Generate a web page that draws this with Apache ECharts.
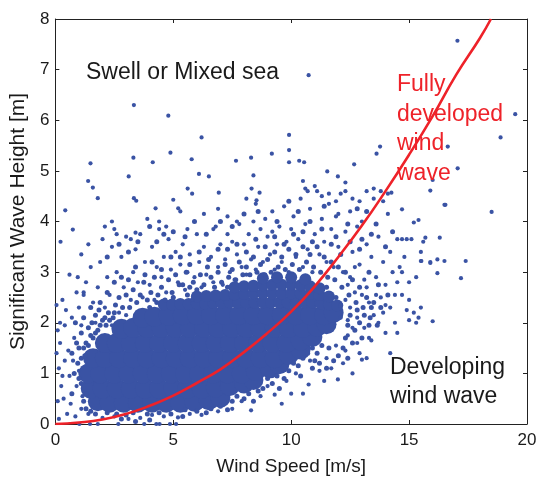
<!DOCTYPE html>
<html>
<head>
<meta charset="utf-8">
<script src="https://cdn.jsdelivr.net/npm/echarts@6/dist/echarts.min.js"></script>
<style>
html,body{margin:0;padding:0;background:#fff;}
#chart{width:540px;height:481px;}
</style>
</head>
<body>
<div id="chart"></div>
<script>
// Axis ticks
const windTicks = [0, 5, 10, 15, 20];
const heightTicks = [0, 1, 2, 3, 4, 5, 6, 7, 8];

// Dense core of the scatter cloud (read as solid area; [wind speed m/s, Hs m])
const denseCore = [
  [1.8,0.45],[2.3,0.42],[2.9,0.42],[3.5,0.42],[4.1,0.42],[4.7,0.42],[5.3,0.42],[5.9,0.44],[6.5,0.47],[7.0,0.52],
  [1.5,0.7],[2.0,0.7],[2.6,0.7],[3.2,0.7],[3.8,0.7],[4.4,0.7],[5.0,0.7],[5.6,0.7],[6.2,0.7],[6.8,0.72],[7.4,0.75],[8.0,0.8],[8.4,0.87],
  [1.4,1.0],[1.9,1.0],[2.5,1.0],[3.1,1.0],[3.7,1.0],[4.3,1.0],[4.9,1.0],[5.5,1.0],[6.1,1.0],[6.7,1.0],[7.3,1.0],[7.9,1.0],[8.5,1.05],[9.1,1.1],[9.5,1.18],
  [1.6,1.3],[2.1,1.3],[2.7,1.3],[3.3,1.3],[3.9,1.3],[4.5,1.3],[5.1,1.3],[5.7,1.3],[6.3,1.3],[6.9,1.3],[7.5,1.3],[8.1,1.3],[8.7,1.3],[9.3,1.3],[9.9,1.37],[10.4,1.47],
  [2.1,1.6],[2.6,1.6],[3.2,1.6],[3.8,1.6],[4.4,1.6],[5.0,1.6],[5.6,1.6],[6.2,1.6],[6.8,1.6],[7.4,1.6],[8.0,1.6],[8.6,1.6],[9.2,1.6],[9.8,1.6],[10.4,1.65],[10.9,1.72],
  [2.8,1.88],[3.3,1.9],[3.9,1.9],[4.5,1.9],[5.1,1.9],[5.7,1.9],[6.3,1.9],[6.9,1.9],[7.5,1.9],[8.1,1.9],[8.7,1.9],[9.3,1.9],[9.9,1.9],[10.5,1.9],[11.1,1.92],[11.5,1.97],
  [3.7,2.1],[4.2,2.12],[4.8,2.14],[5.4,2.15],[6.0,2.15],[6.6,2.15],[7.2,2.15],[7.8,2.15],[8.4,2.15],[9.0,2.15],[9.6,2.15],[10.2,2.15],[10.8,2.15],[11.4,2.15],[11.8,2.2]
];

// Upper edge of the solid area, finer grain ([wind speed m/s, Hs m])
const coreUpperEdge = [
  [4.6,2.36],[4.95,2.36],[5.3,2.37],[5.65,2.37],[6.0,2.38],[6.35,2.38],[6.7,2.39],[7.05,2.39],[7.4,2.4],[7.75,2.4],
  [8.1,2.4],[8.45,2.4],[8.8,2.4],[9.15,2.4],[9.5,2.4],[9.85,2.4],[10.2,2.4],[10.55,2.4],[10.9,2.4],[11.25,2.38],[11.6,2.36],[11.95,2.34],
  [6.0,2.52],[6.4,2.53],[6.8,2.54],[7.2,2.55],[7.6,2.56],[8.0,2.57],[8.4,2.58],[8.8,2.58],[9.2,2.58],[9.6,2.58],
  [10.0,2.58],[10.4,2.58],[10.8,2.57],[11.2,2.55],[11.6,2.52],
  [7.6,2.7],[8.0,2.72],[8.4,2.73],[8.8,2.74],[9.2,2.75],[9.6,2.75],[10.0,2.75],[10.4,2.74],[10.8,2.72],[11.2,2.68],
  [8.8,2.88],[9.4,2.9],[10.0,2.9],[10.6,2.86]
];

// Tightly packed points around the edge of the core ([wind speed m/s, Hs m])
const coreFringe = [
  // above the core
  [1.0,1.5],[1.1,1.8],[1.2,2.1],[1.3,1.6],[1.4,1.9],[1.5,2.3],[1.6,1.7],[1.7,2.15],[1.8,1.85],[1.9,2.4],
  [2.0,2.05],[1.25,1.35],[1.55,2.0],[1.85,2.25],[2.15,1.95],[2.25,2.2],[2.45,2.1],[2.55,2.35],[2.7,2.5],[2.85,2.3],
  [3.0,2.55],[3.15,2.3],[3.3,2.65],[3.45,2.4],[3.6,2.55],[3.75,2.8],[3.9,2.45],[4.05,2.6],[4.2,2.9],[4.35,2.55],
  [4.5,2.7],[4.65,2.45],[4.8,2.85],[4.95,2.6],[5.1,2.95],[5.25,2.75],[5.4,2.75],[5.55,3.0],[5.7,2.7],[5.85,2.8],
  [6.0,2.65],[6.15,2.95],[6.3,2.75],[6.45,3.1],[6.6,2.9],[6.75,2.7],[6.9,3.0],[7.05,2.8],[7.2,3.15],[7.35,2.9],
  [7.5,3.05],[7.65,2.85],[7.8,3.2],[7.95,2.95],[8.1,3.1],[8.25,2.95],[8.4,3.3],[8.55,3.0],[8.7,3.15],[8.85,2.95],
  [9.0,3.25],[9.15,3.0],[9.3,3.4],[9.45,3.1],[9.6,3.3],[9.75,3.05],[9.9,3.45],[10.05,3.15],[10.2,3.35],[10.35,3.05],
  [10.5,3.5],[10.65,3.2],[10.8,3.35],[10.95,3.1],[11.1,3.5],[11.25,3.0],[11.4,3.3],[11.55,2.9],[11.7,3.2],[11.85,2.85],
  [12.0,3.1],[12.15,2.7],[12.3,3.0],[12.45,2.55],[12.6,2.85],[12.75,2.4],[12.9,2.7],[13.05,2.3],[13.2,2.5],[13.35,2.1],
  [13.5,2.4],[13.65,1.95],[13.8,2.3],
  [2.2,2.6],[2.5,2.8],[2.8,2.9],[3.1,2.85],[3.4,3.1],[3.8,2.95],[4.1,3.2],[4.5,3.05],[4.9,3.3],[5.3,3.3],
  [5.7,3.15],[6.1,3.4],[6.5,3.25],[6.9,3.45],[7.3,3.45],[7.7,3.55],[8.1,3.4],[8.5,3.65],[8.9,3.5],[9.3,3.7],
  [9.7,3.55],[10.1,3.75],[10.5,3.8],[10.9,3.6],[11.3,3.85],[11.7,3.55],[12.1,3.35],[12.5,3.6],[12.9,3.45],[13.3,3.0],
  [13.7,2.75],[14.1,2.55],[4.3,2.4],[4.0,2.3],[5.0,2.5],[5.6,2.55],[7.3,2.7],[11.5,2.7],[11.9,2.5],
  // right of the core
  [12.2,1.5],[12.3,1.7],[12.4,1.95],[12.5,2.15],[12.1,2.35],[12.7,1.85],[12.8,2.25],[12.9,2.0],[13.0,1.7],[13.1,2.15],
  [13.3,1.95],[13.4,2.3],[12.6,1.6],[12.0,1.35],[11.8,1.25],[11.5,1.1],[11.2,1.2],[10.9,1.1],[11.6,1.5],[12.4,1.3],
  // below the core
  [7.5,0.45],[7.7,0.55],[8.0,0.5],[8.2,0.6],[8.4,0.45],[8.8,0.7],[9.0,0.9],[9.2,0.8],[9.4,0.95],[9.7,0.9],
  [9.9,1.05],[10.1,1.2],[10.3,1.15],[10.5,1.3],[10.7,1.4],[10.9,1.5],[11.1,1.4],[11.3,1.55],[6.6,0.3],[7.0,0.35],
  [7.3,0.28],[6.0,0.25],[5.5,0.28],[8.6,0.65],[9.5,0.7],[10.4,0.95],[11.0,1.25],
  [1.7,0.2],[2.2,0.22],[2.6,0.2],[3.0,0.18],[3.3,0.22],[3.9,0.2],[4.4,0.22],[4.9,0.2],[5.4,0.15],[6.4,0.22],
  [2.8,0.1],[3.4,0.05],[4.0,0.08],
  // left of the core
  [1.2,0.45],[1.3,0.6],[1.1,0.8],[1.0,0.9],[0.95,1.2],[1.1,1.3],[1.2,1.5],[1.4,1.55],[1.5,1.75],[1.7,1.8],
  [1.9,1.95],[2.1,2.1],[2.3,2.05],[2.5,2.2],[1.3,0.3],[1.5,0.25],[0.8,1.0],[0.7,1.4],[0.9,1.6],[0.85,2.0],[0.7,0.6],
  // upper band
  [2.2,3.3],[2.7,3.55],[3.1,3.4],[3.5,3.6],[4.0,3.9],[4.3,3.6],[4.6,3.75],[5.0,3.8],[5.5,3.7],[5.9,4.0],
  [6.4,3.75],[7.0,4.0],[7.5,3.9],[8.0,4.15],[8.6,4.2],[9.4,4.0],[9.9,4.4],[10.3,4.2],[10.8,4.0],[11.4,4.3],
  [11.9,3.7],[12.4,3.95],[12.8,4.25],[13.2,4.2],[13.6,3.95],[14.0,3.5],[13.4,3.75],[14.3,3.8],[13.0,3.65]
];

// Individual points around the core and outliers ([wind speed m/s, Hs m])
const scatterPoints = [
  // left strip
  [0.05,2.35],[0.1,1.85],[0.05,1.4],[0.15,1.1],[0.25,0.75],[0.1,0.45],[0.3,2.45],[0.45,2.25],[0.2,1.6],[0.4,1.95],
  [0.55,1.45],[0.6,0.95],[0.35,0.5],[0.5,0.2],[0.7,2.1],[0.8,1.7],[0.75,1.25],[0.9,0.75],[0.65,0.4],[1.0,2.3],
  [1.1,1.95],[1.0,1.05],[1.15,0.55],[0.85,0.15],[1.2,2.6],[0.95,2.9],[0.6,2.95],[0.2,2.0],[0.4,1.25],[1.1,0.3],[0.3,0.95],[0.15,0.1],
  // bottom and lower-right edge
  [1.02,0.0],[1.47,0.0],[1.8,0.0],[2.67,0.0],[3.77,0.0],[4.28,0.0],[4.42,0.0],[4.86,0.0],[5.12,0.0],
  [1.4,0.2],[2.0,0.12],[2.5,0.15],[3.1,0.1],[3.6,0.12],[4.1,0.18],[4.6,0.15],[5.2,0.13],[5.7,0.2],[6.2,0.18],[6.9,0.25],
  [7.5,0.3],[8.3,0.27],[7.9,0.45],[8.7,0.55],[9.3,0.58],[9.0,0.75],[9.8,0.85],[10.2,1.0],[10.74,0.78],[11.2,1.05],
  [11.98,0.88],[12.6,1.0],[10.8,1.25],[11.5,1.3],[11.9,1.55],[12.3,1.45],[13.0,1.27],[13.2,1.3],[12.4,1.75],[12.8,1.6],
  [13.4,1.65],[14.0,1.8],[13.7,2.0],[12.2,1.2],[11.7,1.1],[11.4,0.85],[10.5,0.6],[10.0,0.6],[9.6,0.4],[12.9,1.4],[13.3,1.7],
  // band above core, low winds
  [1.3,2.8],[1.5,3.1],[1.6,2.4],[1.8,2.7],[1.9,3.2],[2.1,2.3],[2.2,2.9],[2.4,3.5],[2.3,2.55],[2.6,3.0],
  [2.7,2.2],[2.9,2.7],[2.8,3.3],[3.0,3.7],[3.2,2.45],[3.3,3.0],[3.4,3.45],[3.5,2.8],[3.6,3.75],[3.7,2.5],
  [3.8,3.2],[4.0,2.75],[4.1,3.5],[4.2,2.45],[4.3,3.1],[4.4,3.85],[4.5,2.9],[4.6,3.3],[4.7,2.6],[4.8,3.65],
  [4.9,3.05],[5.0,2.5],[5.1,3.4],[5.2,2.8],[5.3,3.15],[5.4,3.55],[5.5,2.65],[5.6,3.0],[5.7,3.35],[5.8,2.45],
  [5.9,2.9],[6.0,3.75],[6.1,3.2],[6.2,2.7],[6.3,3.5],[6.4,2.95],[1.1,3.35],[1.4,3.55],[2.0,3.65],[2.5,3.85],
  [3.9,4.05],[1.2,2.55],[1.7,2.0],[2.4,1.95],[3.0,2.15],[0.9,2.6],
  // band above core, moderate winds
  [6.6,3.3],[6.7,2.8],[6.8,3.9],[6.9,3.1],[7.0,3.55],[7.1,2.75],[7.2,3.25],[7.3,4.1],[7.4,3.0],[7.5,3.6],
  [7.6,2.85],[7.7,3.35],[7.8,3.95],[7.9,3.1],[8.0,3.55],[8.1,2.95],[8.2,3.75],[8.3,3.25],[8.4,4.0],[8.5,3.05],
  [8.6,3.5],[8.7,3.85],[8.8,3.2],[8.9,2.95],[9.0,3.7],[9.1,3.35],[9.2,4.2],[9.3,3.05],[9.4,3.55],[9.5,3.9],
  [9.6,3.2],[9.7,4.3],[9.8,3.6],[9.9,3.0],[10.0,3.85],[10.1,4.1],[10.2,3.3],[10.3,3.65],[10.4,4.45],[10.5,3.1],
  [10.6,3.95],[10.7,3.45],[10.8,4.25],[10.9,3.0],[11.0,3.75],[11.1,4.6],[11.2,3.35],[11.3,4.05],[11.4,3.6],[11.5,3.2],
  [11.6,4.35],[11.7,3.85],[11.8,3.1],[11.9,4.1],[12.0,3.5],[12.1,4.55],[12.2,3.0],[12.3,3.8],[12.4,2.75],[12.5,4.2],
  [12.6,3.4],[12.7,2.6],[12.8,3.9],[12.9,3.15],[13.0,4.0],[13.1,2.85],[13.2,3.55],[13.3,2.4],[13.4,3.3],[13.5,4.45],
  [13.6,2.9],[13.7,3.7],[13.8,2.5],[13.9,3.2],[14.0,2.75],[14.1,4.15],[14.2,2.3],[12.5,2.3],[12.8,2.1],[13.1,1.9],
  [13.5,2.15],[12.3,2.45],[12.5,2.9],[12.7,3.1],[13.0,2.55],[13.2,2.7],[13.6,2.55],[13.9,2.2],[14.0,2.35],[12.1,2.1],
  [12.4,2.05],[12.6,1.9],
  // upper fringe
  [10.5,4.8],[10.6,4.65],[10.7,4.6],[11.0,4.7],[11.3,4.5],[11.6,4.55],[11.9,4.4],[12.3,4.6],[12.6,4.45],[12.9,4.4],
  [13.2,4.6],[13.5,4.65],[13.8,4.6],[14.1,4.55],[14.25,4.57],[13.9,4.4],[12.0,4.15],
  [2.1,3.9],[2.6,3.75],[3.2,3.65],[3.4,3.78],[4.4,4.0],[4.7,3.9],[5.3,4.2],[5.6,3.85],[6.3,4.15],[6.7,3.85],
  [6.9,4.25],[7.3,3.75],[7.7,4.0],[8.1,4.45],[8.5,4.35],[8.9,4.05],[9.2,3.8],[5.8,4.55],[2.4,4.0],
  // right cluster
  [14.5,3.65],[14.7,3.65],[14.9,3.65],[15.1,3.65],[14.8,3.3],[14.6,3.1],[14.7,3.0],[14.5,2.8],[15.0,2.8],[15.3,2.9],
  [14.4,2.55],[14.7,2.55],[15.0,2.45],[14.9,2.25],[15.2,2.2],[15.4,2.1],[15.0,2.05],[15.3,2.0],[14.4,2.0],[14.5,1.8],
  [14.2,1.4],[15.5,3.4],[15.5,2.3],[14.3,3.0],[14.2,3.4],[15.6,3.6],[15.9,3.2],[15.5,3.22],[16.0,2.03],[16.2,2.98],
  [16.3,3.68],[16.5,3.22],[17.4,3.22],[17.2,2.88],[15.4,4.03],[15.2,3.98],[14.7,4.24],[15.9,4.61],[16.0,4.82],[16.5,4.33],
  [18.5,4.19],[16.2,3.25],
  // outliers
  [3.33,6.3],[4.79,6.09],[10.74,6.89],[17.05,7.57],[19.5,6.12],[18.88,5.66],[6.2,5.66],[9.91,5.71],[9.91,5.41],[9.91,5.17],
  [10.34,5.2],[10.55,5.17],[13.62,5.34],[13.77,5.48],[3.31,5.26],[4.88,5.36],[4.13,5.17],[5.78,5.23],[7.66,5.2],[8.3,5.26],
  [9.18,5.34],[1.49,5.15],[1.39,4.8],[1.59,4.67],[1.8,4.46],[0.42,4.22],[0.22,3.6],[0.74,3.84],[3.11,4.89],[3.33,4.46],
  [3.43,4.41],[5.61,4.65],[6.09,4.94],[6.51,4.89],[6.93,4.57],[8.32,4.65],[8.4,4.91],[8.66,4.57],[8.53,4.42],[5.0,4.43],
  [5.21,4.26],[4.25,4.26],[12.67,5.13],[11.53,4.99],[11.98,4.89],[12.3,4.77],[16.64,5.48],[17.06,5.05],[16.54,4.33],[15.69,3.68],
  [15.52,3.22],[15.9,3.18]
];

// Fully developed wind wave curve ([wind speed m/s, Hs m])
const fullyDeveloped = [
  [0,0],[1,0.03],[2,0.09],[3,0.2],[4,0.36],[5,0.56],[6,0.81],[7,1.08],[8,1.42],[9,1.8],
  [10,2.22],[11,2.72],[12,3.3],[13,3.92],[14,4.6],[15,5.32],[16,6.08],[17,6.9],[18,7.62],[18.47,8]
];

const chart = echarts.init(document.getElementById('chart'), null, {renderer: 'canvas'});
const FONT = 'Liberation Sans, Arial, Helvetica, sans-serif';
const dotColor = '#3a53a4';
const axisCommon = {
  axisLine: {show: true, onZero: false, lineStyle: {color: '#222', width: 1}},
  axisTick: {show: true, inside: true, length: 4, lineStyle: {color: '#222'}},
  splitLine: {show: false}
};
const dotStyle = {color: dotColor, opacity: 1, borderWidth: 0};
chart.setOption({
  animation: false,
  backgroundColor: '#fff',
  grid: {left: 54, right: 13, top: 19, bottom: 57},
  xAxis: [
    Object.assign({
      type: 'value', min: windTicks[0], max: windTicks[windTicks.length - 1], interval: 5, position: 'bottom',
      axisLabel: {fontSize: 17, color: '#1a1a1a', fontFamily: FONT, margin: 8},
      name: 'Wind Speed [m/s]', nameLocation: 'middle', nameGap: 33,
      nameTextStyle: {fontSize: 19, color: '#1a1a1a', fontFamily: FONT}
    }, axisCommon),
    Object.assign({
      type: 'value', min: windTicks[0], max: windTicks[windTicks.length - 1], interval: 5, position: 'top',
      axisLabel: {show: false}
    }, axisCommon)
  ],
  yAxis: [
    Object.assign({
      type: 'value', min: heightTicks[0], max: heightTicks[heightTicks.length - 1], interval: 1, position: 'left',
      axisLabel: {fontSize: 17, color: '#1a1a1a', fontFamily: FONT, margin: 6},
      name: 'Significant Wave Height [m]', nameLocation: 'middle', nameGap: 23,
      nameTextStyle: {fontSize: 21, color: '#1a1a1a', fontFamily: FONT}
    }, axisCommon),
    Object.assign({
      type: 'value', min: heightTicks[0], max: heightTicks[heightTicks.length - 1], interval: 1, position: 'right',
      axisLabel: {show: false}
    }, axisCommon)
  ],
  series: [
    {
      type: 'scatter', data: denseCore, symbol: 'circle', symbolSize: 20, large: false,
      itemStyle: dotStyle, silent: true
    },
    {
      type: 'scatter', data: coreUpperEdge, symbol: 'circle', symbolSize: 12, large: false,
      itemStyle: dotStyle, silent: true
    },
    {
      type: 'scatter', data: coreFringe, symbol: 'circle', symbolSize: 5, large: false,
      itemStyle: dotStyle, silent: true
    },
    {
      type: 'scatter', data: scatterPoints, symbol: 'circle', symbolSize: 4.2, large: false,
      itemStyle: dotStyle, silent: true
    },
    {
      type: 'line', data: fullyDeveloped, smooth: true, showSymbol: false,
      lineStyle: {color: '#ee2229', width: 2.6}, clip: true, z: 5
    }
  ],
  graphic: [
    {type: 'text', x: 86, y: 73, z: 10,
     style: {text: 'Swell or Mixed sea', fontSize: 23, fontFamily: FONT, fill: '#1a1a1a', verticalAlign: 'middle'}},
    {type: 'text', x: 397, y: 70, z: 10,
     style: {text: 'Fully\ndeveloped\nwind\nwave', fontSize: 23, lineHeight: 29.5, fontFamily: FONT, fill: '#ee2229', verticalAlign: 'top'}},
    {type: 'text', x: 390, y: 353, z: 10,
     style: {text: 'Developing\nwind wave', fontSize: 23, lineHeight: 29, fontFamily: FONT, fill: '#1a1a1a', verticalAlign: 'top'}}
  ]
});
</script>
</body>
</html>
